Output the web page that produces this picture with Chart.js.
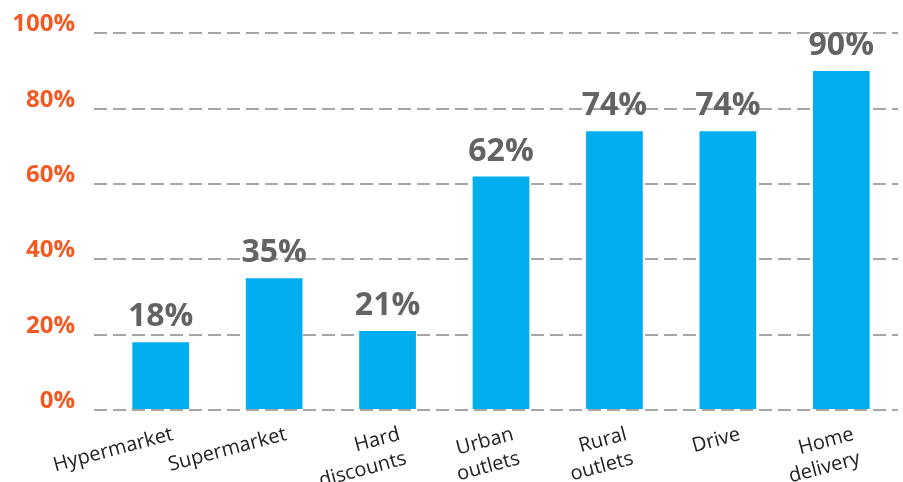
<!DOCTYPE html>
<html>
<head>
<meta charset="utf-8">
<script src="https://cdn.jsdelivr.net/npm/chart.js@4/dist/chart.umd.min.js"></script>
<style>
  html, body { margin: 0; padding: 0; background: #fff; }
  #wrap { width: 903px; height: 482px; }
</style>
</head>
<body>
<div id="wrap"><canvas id="myChart"></canvas></div>
<script>
const categories = [
    ['Hypermarket'],
    ['Supermarket'],
    ['Hard', 'discounts'],
    ['Urban', 'outlets'],
    ['Rural', 'outlets'],
    ['Drive'],
    ['Home', 'delivery']
];
const shares = [18, 35, 21, 62, 74, 74, 90];
const yTicks = [0, 20, 40, 60, 80, 100];

const BLUE = '#00aeef';
const ORANGE = '#f15a22';
const GREY_TEXT = '#636363';
const GRID = '#a6a6a6';

// draws "18%" etc above each bar
const valueLabels = {
    id: 'valueLabels',
    afterDatasetsDraw(chart) {
        const ctx = chart.ctx;
        const meta = chart.getDatasetMeta(0);
        ctx.save();
        ctx.font = 'bold 32px "Open Sans"';
        ctx.fillStyle = GREY_TEXT;
        ctx.textAlign = 'center';
        ctx.textBaseline = 'alphabetic';
        meta.data.forEach((bar, i) => {
            ctx.fillText(shares[i] + '%', bar.x, bar.y - 16);
        });
        ctx.restore();
    }
};

const ctx = document.getElementById('myChart');
const chart = new Chart(ctx, {
    type: 'bar',
    data: {
        labels: categories,
        datasets: [{
            data: shares,
            backgroundColor: BLUE,
            barPercentage: 0.5,
            categoryPercentage: 1.0
        }]
    },
    options: {
        responsive: true,
        maintainAspectRatio: false,
        animation: false,
        layout: { padding: { top: 19, left: 12, right: 5, bottom: 0 } },
        plugins: {
            legend: { display: false },
            tooltip: { enabled: false }
        },
        scales: {
            x: {
                grid: { display: false },
                border: { display: false },
                ticks: {
                    color: '#222',
                    font: { family: 'Open Sans', size: 20, lineHeight: 1.25 },
                    minRotation: 15,
                    maxRotation: 15,
                    autoSkip: false,
                    labelOffset: 12,
                    padding: 4
                },
                afterFit: axis => {
                    axis.height = 72;
                    axis.paddingLeft = 0;
                    axis.paddingRight = 0;
                }
            },
            y: {
                min: 0,
                max: 100,
                afterBuildTicks: axis => { axis.ticks = yTicks.map(v => ({ value: v })); },
                border: { display: false, dash: [13, 6], dashOffset: 10 },
                grid: {
                    color: GRID,
                    lineWidth: 2,
                    tickLength: 10,
                    tickColor: GRID,
                    tickWidth: 2,
                    tickBorderDash: [13, 6],
                    tickBorderDashOffset: 0
                },
                ticks: {
                    color: ORANGE,
                    font: { family: 'Open Sans', size: 24, weight: 'bold' },
                    padding: 19,
                    labelOffset: -9,
                    callback: v => v + '%'
                },
                afterFit: axis => { axis.width = 92; }
            }
        }
    },
    plugins: [valueLabels]
});
</script>
</body>
</html>
